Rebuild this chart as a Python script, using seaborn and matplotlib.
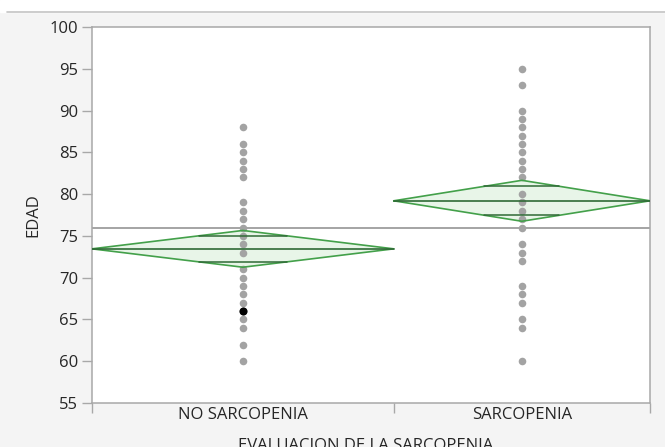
import numpy as np
import pandas as pd
import matplotlib
matplotlib.use("Agg")
import matplotlib.pyplot as plt
import seaborn as sns

# Groups and their sizes (diamond widths are proportional to group size)
groups = ["NO SARCOPENIA", "SARCOPENIA"]
group_n = [53, 45]

# Ages observed in each group
ages_no = [88, 86, 85, 84, 83, 82, 79, 78, 77, 76, 75, 74, 73, 71, 70, 69,
           68, 67, 66, 65, 64, 62, 60]
ages_sar = [95, 93, 90, 89, 88, 87, 86, 85, 84, 83, 82, 80, 79, 78, 77, 76,
            74, 73, 72, 69, 68, 67, 65, 64, 60]
highlight_age = 66  # selected row in NO SARCOPENIA

# Group means with 95% confidence limits, and the grand mean
means = [73.45, 79.2]
ci_low = [71.25, 76.75]
ci_high = [75.65, 81.65]
grand_mean = 76.0

y_ticks = [55, 60, 65, 70, 75, 80, 85, 90, 95, 100]

sns.set_theme(style="white")
plt.rcParams["font.family"] = ["Open Sans", "DejaVu Sans"]

fs = 12
txt = "#262626"
bg = "#f4f4f4"
fig = plt.figure(figsize=(6.65, 4.47), dpi=100, facecolor=bg)
ax = fig.add_axes([92 / 665, 44 / 447, 558 / 665, 376 / 447])
ax.set_facecolor("white")

# top strip of the report window
fig.patches.append(plt.Rectangle((0, 1 - 12 / 447), 1, 12 / 447,
                                 transform=fig.transFigure, color="white", zorder=0))
fig.add_artist(plt.Line2D([7 / 665, 1], [1 - 12 / 447] * 2, transform=fig.transFigure,
                          color="#c4c4c4", lw=1.2))

# x extents of each group
edges = np.concatenate([[0], np.cumsum(group_n)])
centers = (edges[:-1] + edges[1:]) / 2

rows = []
for g, c, vals in zip(groups, centers, [ages_no, ages_sar]):
    for v in vals:
        rows.append({"grupo": g, "x": c, "EDAD": v})
df = pd.DataFrame(rows)

# grand mean line
ax.axhline(grand_mean, color="#8c8c8c", lw=1.1, zorder=1)

# mean diamonds
green = "#43a04a"
dark = "#2f6a36"
for i in range(len(groups)):
    x0, x1, xc = edges[i], edges[i + 1], centers[i]
    m, lo, hi = means[i], ci_low[i], ci_high[i]
    xs = [x0, xc, x1, xc, x0]
    ys = [m, hi, m, lo, m]
    ax.fill(xs, ys, color="#e8f5e8", zorder=2, lw=0)
    ax.plot(xs, ys, color=green, lw=1.2, zorder=4)
    ax.plot([x0, x1], [m, m], color=dark, lw=1.2, zorder=4)
    # overlap marks
    half = (hi - lo) / 2
    off = half / np.sqrt(2)
    hw = (x1 - x0) / 2 * (1 - 1 / np.sqrt(2))
    for yy in (m + off, m - off):
        ax.plot([xc - hw, xc + hw], [yy, yy], color=dark, lw=1.1, zorder=4)

sns.scatterplot(data=df, x="x", y="EDAD", color="#a3a3a3", s=30, linewidth=0,
                ax=ax, zorder=3, legend=False)
hl = df[(df["grupo"] == groups[0]) & (df["EDAD"] == highlight_age)]
sns.scatterplot(data=hl, x="x", y="EDAD", color="black", s=34, linewidth=0,
                ax=ax, zorder=5, legend=False)

ax.set_xlim(edges[0], edges[-1])
ax.set_ylim(55, 100)
ax.set_yticks(y_ticks)
ax.set_yticklabels([str(t) for t in y_ticks])

# group separators as major ticks, group names as minor tick labels
ax.set_xticks(edges)
ax.set_xticklabels([""] * len(edges))
ax.set_xticks(centers, minor=True)
ax.set_xticklabels(groups, minor=True)
ax.tick_params(axis="x", which="major", length=7, width=1, color="#a8a8a8",
               direction="out", bottom=True)
ax.tick_params(axis="x", which="minor", length=0, pad=3, labelsize=fs,
               labelcolor=txt, bottom=True)
ax.tick_params(axis="y", length=7, width=1, color="#a8a8a8", direction="out",
               left=True, pad=3, labelsize=fs, labelcolor=txt)

for s in ax.spines.values():
    s.set_color("#a8a8a8")
    s.set_linewidth(1.1)

ax.set_xlabel("")
ax.set_ylabel("EDAD", fontsize=fs, color=txt, labelpad=6)
fig.text(366 / 665, -3 / 447, "EVALUACION DE LA SARCOPENIA", ha="center",
         va="baseline", fontsize=fs, color=txt)

fig.savefig("out.png", dpi=100, facecolor=bg)
